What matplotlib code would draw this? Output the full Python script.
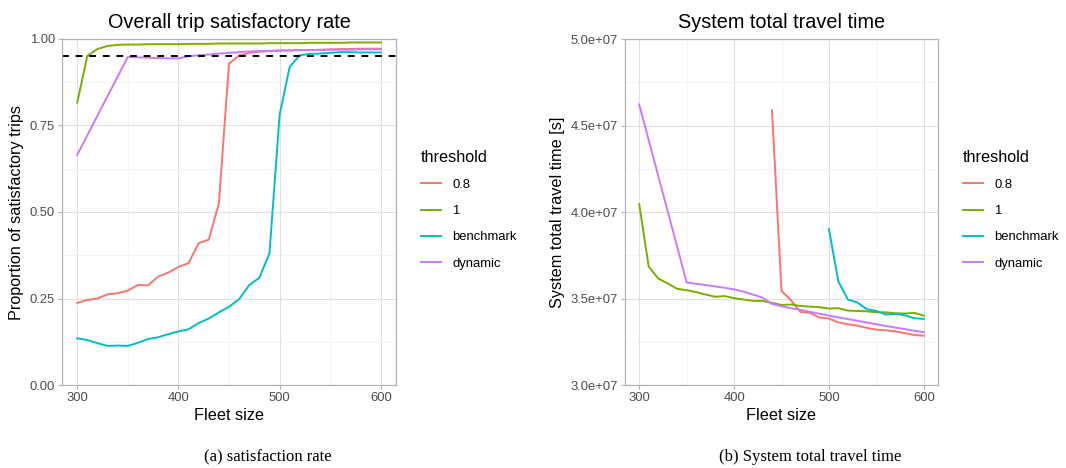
import numpy as np
import matplotlib.pyplot as plt
from matplotlib.ticker import FuncFormatter, MultipleLocator

plt.rcParams['font.family'] = ['Liberation Sans', 'DejaVu Sans']

# ---- data ----
fleet = list(range(300, 610, 10))
fleet_dyn = [300] + list(range(350, 610, 10))

sat_08 = [0.237, 0.246, 0.250, 0.262, 0.265, 0.273, 0.289, 0.288, 0.313, 0.325,
          0.341, 0.352, 0.410, 0.420, 0.525, 0.929, 0.952, 0.960, 0.963, 0.965,
          0.966, 0.967, 0.968, 0.968, 0.969, 0.970, 0.971, 0.971, 0.972, 0.972, 0.972]
sat_1 = [0.816, 0.951, 0.971, 0.980, 0.983, 0.984, 0.984, 0.985, 0.985, 0.985,
         0.985, 0.986, 0.986, 0.986, 0.987, 0.987, 0.987, 0.987, 0.987, 0.988,
         0.988, 0.988, 0.988, 0.989, 0.989, 0.989, 0.989, 0.990, 0.990, 0.990, 0.990]
sat_bench = [0.135, 0.130, 0.121, 0.113, 0.114, 0.113, 0.122, 0.133, 0.138, 0.147,
             0.155, 0.161, 0.179, 0.192, 0.210, 0.226, 0.248, 0.289, 0.310, 0.381,
             0.781, 0.920, 0.953, 0.957, 0.958, 0.960, 0.962, 0.962, 0.961, 0.961, 0.961]
sat_dyn = [0.665, 0.948, 0.947, 0.946, 0.945, 0.944, 0.944, 0.950, 0.953, 0.955,
           0.958, 0.960, 0.962, 0.964, 0.965, 0.966, 0.967, 0.967, 0.968, 0.968,
           0.968, 0.969, 0.969, 0.969, 0.970, 0.970, 0.970]

fleet_tt_08 = list(range(440, 610, 10))
fleet_tt_bench = list(range(500, 610, 10))
tt_08 = [4.588, 3.543, 3.490, 3.422, 3.417, 3.390, 3.384, 3.362, 3.351, 3.343,
         3.330, 3.320, 3.316, 3.310, 3.300, 3.289, 3.285]
tt_1 = [4.046, 3.684, 3.616, 3.587, 3.556, 3.548, 3.537, 3.523, 3.510, 3.514,
        3.502, 3.494, 3.486, 3.486, 3.475, 3.463, 3.465, 3.457, 3.453, 3.450,
        3.442, 3.444, 3.430, 3.428, 3.426, 3.420, 3.420, 3.415, 3.413, 3.417, 3.401]
tt_bench = [3.901, 3.597, 3.494, 3.477, 3.438, 3.428, 3.407, 3.411, 3.403, 3.386, 3.382]
tt_dyn = [4.621, 3.593, 3.585, 3.578, 3.570, 3.562, 3.553, 3.540, 3.523, 3.505,
          3.468, 3.455, 3.444, 3.434, 3.423, 3.412, 3.401, 3.391, 3.381, 3.371,
          3.361, 3.351, 3.341, 3.332, 3.323, 3.314, 3.305]

labels = ['0.8', '1', 'benchmark', 'dynamic']
colors = ['#F8766D', '#7CAE00', '#00BFC4', '#C77CFF']

fig = plt.figure(figsize=(10.66, 4.68), dpi=100)
ax1 = fig.add_axes([62 / 1066, 83 / 468, 334 / 1066, 346 / 468])
ax2 = fig.add_axes([625 / 1066, 83 / 468, 313 / 1066, 346 / 468])


def style(ax):
    ax.set_facecolor('white')
    for s in ax.spines.values():
        s.set_color('#B3B3B3')
        s.set_linewidth(0.9)
    ax.grid(True, which='major', color='#E0E0E0', linewidth=0.8)
    ax.grid(True, which='minor', color='#F0F0F0', linewidth=0.5)
    ax.set_axisbelow(True)
    ax.tick_params(which='major', color='#B3B3B3', length=3, width=0.8,
                   labelsize=9.4, labelcolor='#4D4D4D', pad=2)
    ax.tick_params(which='minor', length=0)
    ax.set_xlim(285, 615)
    ax.xaxis.set_major_locator(MultipleLocator(100))
    ax.xaxis.set_minor_locator(MultipleLocator(50))
    ax.set_xlabel('Fleet size', fontsize=11.7, labelpad=3)


# left panel
sat_x = [fleet, fleet, fleet, fleet_dyn]
sat_y = [sat_08, sat_1, sat_bench, sat_dyn]
for xs, ys, c, lab in zip(sat_x, sat_y, colors, labels):
    ax1.plot(xs, ys, color=c, lw=1.4, label=lab)
ax1.axhline(0.95, color='black', lw=1.4, dashes=(3.5, 3.5))
style(ax1)
ax1.set_ylim(0, 1)
ax1.yaxis.set_major_locator(MultipleLocator(0.25))
ax1.yaxis.set_minor_locator(MultipleLocator(0.125))
ax1.yaxis.set_major_formatter(FuncFormatter(lambda v, p: '%.2f' % v))
ax1.set_ylabel('Proportion of satisfactory trips', fontsize=11.7, labelpad=4)
ax1.set_title('Overall trip satisfactory rate', fontsize=14.3, pad=8)

# right panel
tt_x = [fleet_tt_08, fleet, fleet_tt_bench, fleet_dyn]
tt_y = [tt_08, tt_1, tt_bench, tt_dyn]
for xs, ys, c, lab in zip(tt_x, tt_y, colors, labels):
    ax2.plot(xs, np.array(ys) * 1e7, color=c, lw=1.4, label=lab)
style(ax2)
ax2.set_ylim(3.0e7, 5.0e7)
ax2.yaxis.set_major_locator(MultipleLocator(0.5e7))
ax2.yaxis.set_minor_locator(MultipleLocator(0.25e7))
ax2.yaxis.set_major_formatter(FuncFormatter(lambda v, p: '%.1e' % v))
ax2.set_ylabel('System total travel time [s]', fontsize=11.7, labelpad=4)
ax2.set_title('System total travel time', fontsize=14.3, pad=8)

for ax, lx in [(ax1, 409 / 1066), (ax2, 951 / 1066)]:
    leg = ax.legend(loc='upper left', bbox_to_anchor=(lx, 1 - 138 / 468),
                    bbox_transform=fig.transFigure, frameon=False,
                    title='threshold', fontsize=9.4, title_fontsize=11.7,
                    alignment='left', handlelength=1.55, handletextpad=0.85,
                    labelspacing=1.08)

fig.text(268 / 1066, 1 - 457 / 468, '(a) satisfaction rate', ha='center', va='center',
         fontsize=12, family='Liberation Serif')
fig.text(810 / 1066, 1 - 457 / 468, '(b) System total travel time', ha='center',
         va='center', fontsize=12, family='Liberation Serif')

plt.savefig('out.png', dpi=100)
